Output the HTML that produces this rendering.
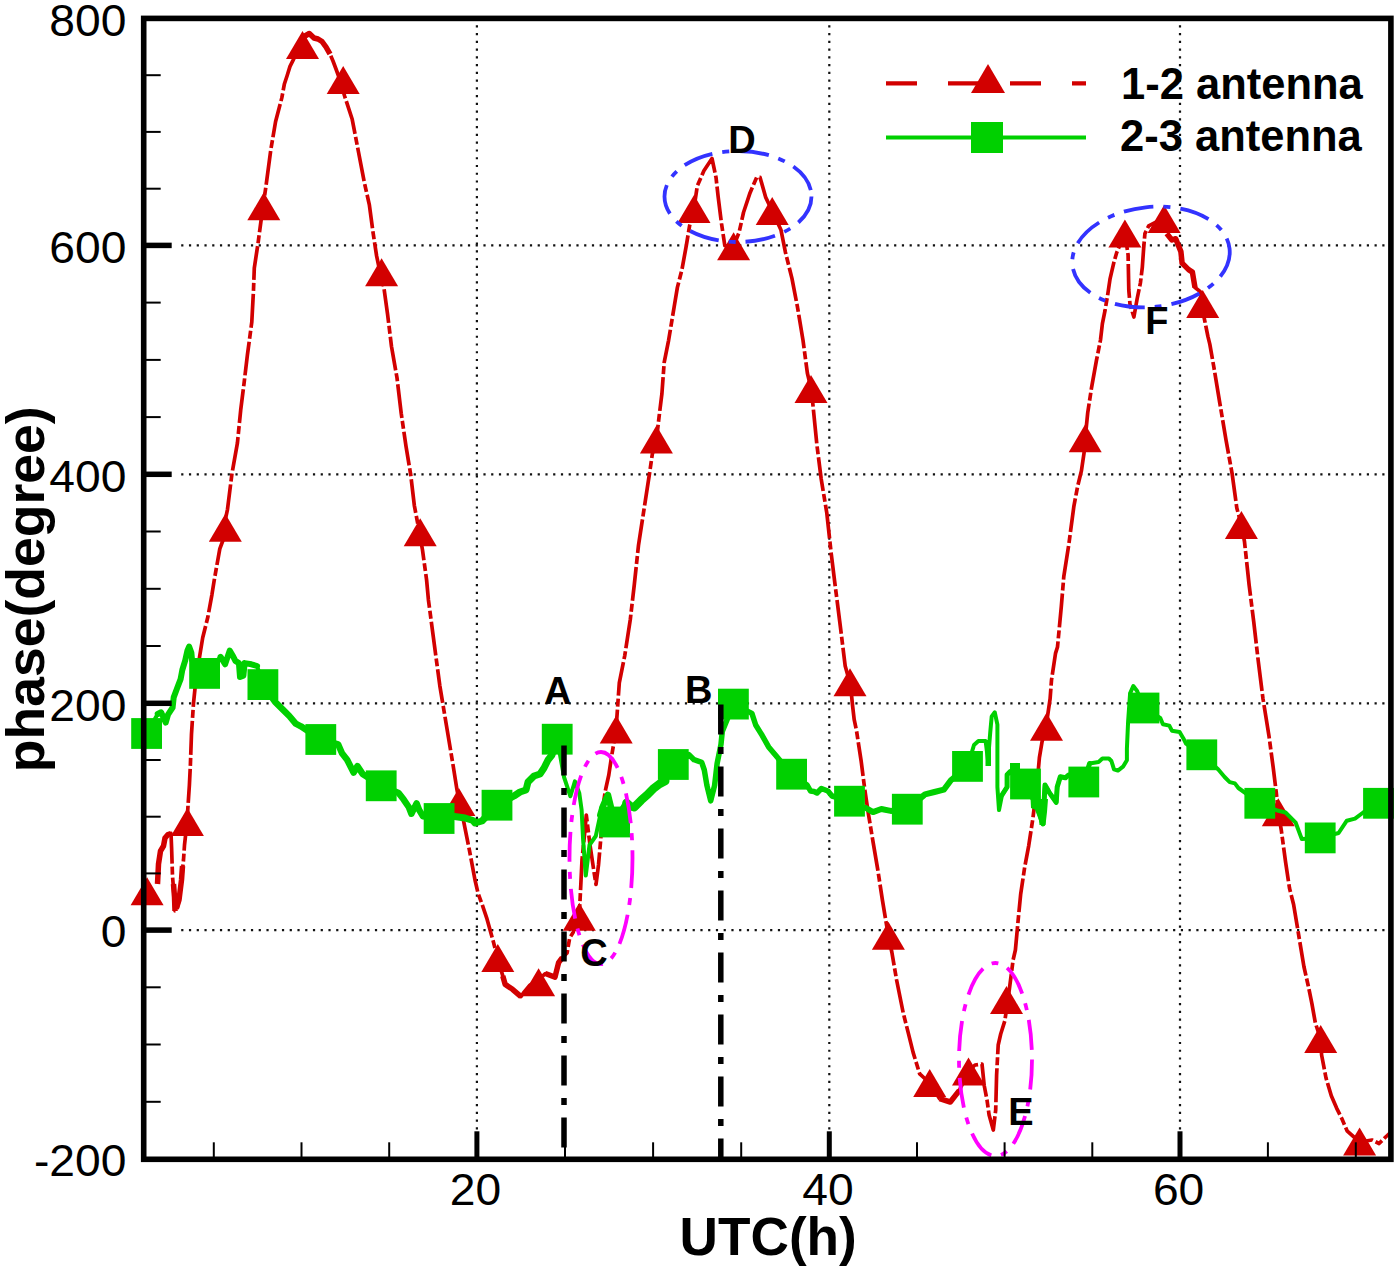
<!DOCTYPE html>
<html><head><meta charset="utf-8"><style>
html,body{margin:0;padding:0;background:#fff;width:1400px;height:1271px;overflow:hidden}
svg{display:block;font-family:"Liberation Sans",sans-serif}
</style></head><body>
<svg width="1400" height="1271" viewBox="0 0 1400 1271">
<g stroke="#111" stroke-width="2.2" fill="none"><line x1="476.9" y1="25.2" x2="476.9" y2="1129.5" stroke-dasharray="2.2 5.561"/><line x1="829.3" y1="25.2" x2="829.3" y2="1129.5" stroke-dasharray="2.2 5.561"/><line x1="1180.0" y1="25.2" x2="1180.0" y2="1129.5" stroke-dasharray="2.2 5.561"/><line x1="181.2" y1="930.1" x2="1384.5" y2="930.1" stroke-dasharray="2.2 5.549"/><line x1="181.2" y1="703.3" x2="1384.5" y2="703.3" stroke-dasharray="2.2 5.549"/><line x1="181.2" y1="474.3" x2="1384.5" y2="474.3" stroke-dasharray="2.2 5.549"/><line x1="181.2" y1="245.4" x2="1384.5" y2="245.4" stroke-dasharray="2.2 5.549"/></g>
<g>
<polyline points="158.0,881.0 158.5,864.0 160.5,851.0 163.5,846.0 165.0,838.0 168.0,834.5 171.0,833.5 171.6,848.0 172.5,876.0 174.0,895.0 175.0,911.0 176.5,911.0 179.0,900.0 181.5,880.0 183.5,860.0 184.5,845.0 185.5,836.0 186.4,825.0 187.5,813.6 189.4,785.0 190.4,764.5 191.5,733.8 193.5,703.2 195.6,682.7 199.7,656.0 202.7,637.7 207.8,617.3 211.9,594.8 214.3,579.7 219.8,548.9 223.1,540.0 225.3,520.0 227.5,509.3 231.9,474.0 237.4,443.2 240.7,410.1 244.0,383.7 247.4,355.0 251.8,322.0 253.5,290.0 254.3,268.0 257.9,244.2 261.4,218.0 264.0,200.0 266.1,185.2 270.8,149.8 275.6,121.5 281.8,97.9 284.3,84.3 287.1,75.7 290.0,66.4 292.9,60.7 298.0,50.0 302.5,40.0 305.0,36.0 309.3,33.5 314.0,38.0 318.0,39.0 322.0,41.5 326.0,47.0 330.0,54.0 333.0,61.0 336.0,69.0 340.0,80.0 344.6,96.0 352.2,119.3 358.3,151.0 364.4,182.7 369.3,204.6 372.9,231.5 376.6,255.9 380.0,272.0 383.9,287.6 387.6,314.4 391.5,346.5 397.0,377.8 401.2,413.3 406.0,446.3 410.7,474.6 414.3,505.3 418.0,525.0 422.5,550.0 426.6,580.0 428.4,599.7 433.2,636.1 439.8,685.6 446.4,725.2 453.0,764.8 457.0,790.0 460.0,805.0 462.9,817.6 469.5,850.6 475.0,880.0 478.0,893.0 482.1,904.3 487.0,918.9 490.0,929.8 493.1,940.7 497.5,958.0 502.8,975.9 505.2,984.4 512.5,989.3 521.0,996.6 523.4,992.9 530.0,985.0 538.6,980.0 545.3,973.5 555.0,977.1 558.6,962.6 562.3,957.7 567.1,952.9 569.6,938.3 573.2,932.2 579.3,915.0 580.8,885.0 582.0,860.0 584.5,835.0 586.3,815.0 590.0,845.0 594.0,872.0 596.0,884.5 598.5,865.0 600.5,842.0 603.9,800.0 605.5,790.0 608.8,775.0 611.8,755.0 613.5,745.0 616.0,730.0 619.3,682.8 624.8,655.3 630.3,619.5 634.4,583.7 638.5,545.2 644.0,509.4 649.5,473.6 652.3,454.3 656.4,440.0 659.2,415.8 661.9,393.8 664.2,362.3 668.6,340.3 674.1,307.2 677.4,287.4 681.9,269.8 686.3,245.6 689.6,225.7 694.0,208.0 697.3,186.0 703.9,170.7 712.0,158.5 716.0,177.3 718.2,197.1 721.5,223.5 724.8,245.6 733.6,246.0 739.1,232.3 743.5,212.5 750.1,192.7 756.7,177.3 760.0,177.3 765.6,197.1 772.2,211.0 781.0,230.1 785.4,252.2 792.0,278.6 797.5,307.2 803.0,340.3 807.4,373.3 810.5,386.0 812.7,402.5 816.9,445.0 821.2,479.0 826.8,513.0 831.1,552.6 835.3,586.6 839.6,620.5 845.2,665.9 850.5,685.0 852.5,705.0 854.2,719.7 856.5,730.7 861.2,761.4 864.8,789.7 868.3,813.3 873.0,841.6 877.8,869.9 882.5,900.6 886.0,921.8 888.4,936.0 891.9,952.5 896.6,980.0 903.2,1012.8 908.2,1032.6 913.1,1052.4 919.7,1073.9 929.7,1083.0 939.6,1098.7 950.3,1102.0 959.4,1090.4 968.5,1071.0 975.0,1065.0 982.0,1064.0 984.2,1085.5 987.0,1100.0 989.1,1115.0 993.3,1130.0 995.7,1110.0 996.6,1075.0 998.2,1045.0 1000.7,1034.0 1004.8,1021.0 1009.0,992.0 1013.1,960.0 1015.4,950.0 1018.1,920.6 1020.7,893.9 1024.7,867.1 1028.7,845.8 1032.8,819.0 1036.8,787.0 1039.4,757.6 1042.1,741.5 1046.1,726.0 1050.1,698.8 1051.5,680.1 1055.5,653.4 1057.5,647.0 1061.3,606.7 1063.8,576.5 1068.9,543.8 1073.9,506.1 1077.7,486.0 1081.4,470.9 1084.0,453.3 1085.2,438.0 1087.7,413.0 1091.5,387.9 1096.5,360.2 1100.5,340.0 1102.4,323.6 1105.0,310.7 1107.6,295.3 1110.1,278.6 1114.0,261.9 1116.6,252.9 1124.9,233.0 1128.1,255.0 1128.8,290.0 1130.0,304.3 1133.9,317.0 1137.1,299.0 1140.4,283.0 1142.3,267.6 1143.6,249.0 1144.9,233.6 1148.7,225.9 1164.1,218.0 1166.7,233.6 1171.9,240.0 1175.7,238.7 1180.9,251.6 1182.1,263.1 1188.6,269.6 1192.4,272.1 1195.0,287.6 1200.1,291.4 1202.7,304.0 1204.0,317.1 1207.9,336.4 1209.8,344.1 1213.8,366.8 1219.9,403.6 1226.1,440.5 1232.2,474.2 1236.8,508.0 1241.4,525.0 1244.5,541.7 1249.1,584.7 1253.7,621.5 1258.3,661.4 1262.9,698.2 1264.0,705.0 1269.1,736.8 1273.2,767.5 1276.2,792.0 1278.3,812.0 1281.4,830.9 1285.5,861.6 1289.5,888.2 1293.6,904.5 1297.7,929.1 1299.5,940.0 1303.9,966.5 1308.3,986.0 1311.9,1003.7 1315.4,1023.2 1320.7,1039.0 1321.6,1055.0 1326.0,1078.0 1331.3,1095.8 1336.6,1108.1 1341.9,1118.8 1347.3,1131.2 1359.6,1142.0 1372.0,1140.0 1379.1,1143.5 1386.2,1136.5 1391.0,1132.0" fill="none" stroke="#d20000" stroke-width="3.7" stroke-linejoin="round" stroke-dasharray="34 3 8 3"/>
<polyline points="157.5,884.0 158.5,864.0 160.5,851.0 163.5,846.0 165.0,838.0 168.0,834.5 171.0,833.5" fill="none" stroke="#d20000" stroke-width="5.5" stroke-linejoin="round"/>
<polyline points="173.5,884.0 174.5,897.0 175.0,911.0" fill="none" stroke="#d20000" stroke-width="5.5" stroke-linejoin="round"/>
<polyline points="176.5,908.0 179.0,900.0 181.5,880.0 182.5,866.0" fill="none" stroke="#d20000" stroke-width="5.5" stroke-linejoin="round"/>
<polyline points="502.8,976.0 505.2,984.4 512.5,989.3 521.0,996.6" fill="none" stroke="#d20000" stroke-width="5.5" stroke-linejoin="round"/>
<polyline points="545.3,973.5 555.0,977.1 558.6,962.6 562.3,957.7" fill="none" stroke="#d20000" stroke-width="5.5" stroke-linejoin="round"/>
<polyline points="1166.7,233.6 1171.9,240.0 1175.7,238.7 1180.9,251.6 1182.1,263.1 1188.6,269.6 1192.4,272.1 1195.0,287.6" fill="none" stroke="#d20000" stroke-width="5.5" stroke-linejoin="round"/>
<polyline points="939.6,1098.7 950.3,1102.0 959.4,1090.4" fill="none" stroke="#d20000" stroke-width="5.5" stroke-linejoin="round"/>
<polyline points="302.5,40.0 305.0,36.0 309.3,33.5 314.0,38.0 318.0,39.0 322.0,41.5 326.0,47.0 330.0,54.0" fill="none" stroke="#d20000" stroke-width="5.5" stroke-linejoin="round"/>
<g fill="#d20000"><polygon points="147.1,877.2 130.6,905.2 163.6,905.2"/><polygon points="187.4,808.0 170.9,836.0 203.9,836.0"/><polygon points="225.3,513.7 208.8,541.7 241.8,541.7"/><polygon points="263.8,192.3 247.3,220.3 280.3,220.3"/><polygon points="302.5,31.1 286.0,59.1 319.0,59.1"/><polygon points="343.2,66.1 326.7,94.1 359.7,94.1"/><polygon points="381.6,258.3 365.1,286.3 398.1,286.3"/><polygon points="420.2,518.3 403.7,546.3 436.7,546.3"/><polygon points="458.9,788.0 442.4,816.0 475.4,816.0"/><polygon points="497.8,944.0 481.3,972.0 514.3,972.0"/><polygon points="538.6,968.3 522.1,996.3 555.1,996.3"/><polygon points="579.3,902.7 562.8,930.7 595.8,930.7"/><polygon points="616.2,715.5 599.7,743.5 632.7,743.5"/><polygon points="656.4,425.4 639.9,453.4 672.9,453.4"/><polygon points="694.0,194.9 677.5,222.9 710.5,222.9"/><polygon points="733.6,232.3 717.1,260.3 750.1,260.3"/><polygon points="772.2,197.1 755.7,225.1 788.7,225.1"/><polygon points="811.0,375.0 794.5,403.0 827.5,403.0"/><polygon points="850.0,668.3 833.5,696.3 866.5,696.3"/><polygon points="888.4,921.8 871.9,949.8 904.9,949.8"/><polygon points="929.7,1069.0 913.2,1097.0 946.2,1097.0"/><polygon points="968.5,1057.4 952.0,1085.4 985.0,1085.4"/><polygon points="1006.5,986.0 990.0,1014.0 1023.0,1014.0"/><polygon points="1046.5,712.8 1030.0,740.8 1063.0,740.8"/><polygon points="1085.2,424.3 1068.7,452.3 1101.7,452.3"/><polygon points="1124.9,219.4 1108.4,247.4 1141.4,247.4"/><polygon points="1164.1,205.0 1147.6,233.0 1180.6,233.0"/><polygon points="1202.7,290.1 1186.2,318.1 1219.2,318.1"/><polygon points="1241.4,511.0 1224.9,539.0 1257.9,539.0"/><polygon points="1278.3,798.2 1261.8,826.2 1294.8,826.2"/><polygon points="1320.7,1025.0 1304.2,1053.0 1337.2,1053.0"/><polygon points="1359.6,1127.6 1343.1,1155.6 1376.1,1155.6"/></g>
<polyline points="146.6,733.5 157.7,714.0 161.1,712.3 165.7,722.6 168.0,714.6 172.6,707.7 173.7,697.4 177.1,688.3 180.6,679.1 182.3,670.0 185.1,660.9 187.4,650.6 189.1,646.6 191.4,652.9 192.0,659.7 204.6,673.4 220.6,656.9 225.1,664.3 229.7,650.6 233.1,656.3 235.4,660.9 238.9,663.1 240.0,677.0 243.4,675.7 244.6,663.1 251.4,664.3 257.1,666.0 262.9,684.6 275.1,701.9 282.9,709.6 289.3,716.0 295.7,723.7 300.9,726.3 320.8,739.5 338.1,744.3 342.0,753.3 347.1,759.7 353.6,772.6 357.4,766.1 362.6,773.9 381.2,785.8 398.6,793.1 403.7,799.6 408.9,807.3 411.4,813.7 416.6,803.4 419.1,809.9 423.0,816.3 439.1,818.5 454.5,816.5 465.0,818.0 473.0,820.5 475.0,823.0 482.0,821.0 497.0,805.2 514.0,796.0 520.0,792.0 526.0,790.0 528.0,782.0 534.0,776.0 540.0,774.0 544.0,768.0 548.0,760.0 552.0,755.0 557.2,739.2 564.0,777.0 570.4,796.3 574.9,781.3 579.3,793.3 581.6,809.7 583.1,839.6 585.8,875.5 589.5,845.0 595.8,836.0 600.3,815.0 603.0,806.0 607.9,794.9 614.6,822.0 626.5,802.8 630.0,806.0 634.2,807.3 641.2,800.2 648.3,793.8 654.0,788.1 659.6,783.9 665.3,781.0 673.3,764.5 688.9,754.6 694.0,759.7 701.7,762.3 704.3,770.0 706.9,785.4 710.7,800.9 714.6,785.4 717.1,763.6 721.0,744.3 722.3,731.4 733.4,704.1 751.9,713.4 755.7,725.0 762.1,735.3 768.6,746.9 775.0,754.6 791.6,774.2 807.1,785.0 810.5,791.0 814.0,791.5 817.0,793.0 821.4,788.5 827.9,791.0 832.0,796.0 849.5,801.2 866.0,808.0 873.0,812.1 881.3,809.0 890.7,810.9 907.3,809.2 925.0,794.4 934.4,792.0 943.8,789.7 950.9,780.2 967.5,766.4 974.0,745.0 978.4,741.0 985.6,741.0 988.0,760.0 990.2,732.8 991.7,716.4 994.8,712.3 997.4,724.6 997.4,787.0 999.0,810.0 1002.0,795.0 1007.1,787.0 1007.1,774.7 1010.2,771.6 1025.5,784.0 1036.0,805.0 1042.9,824.0 1045.0,785.0 1049.0,792.1 1056.2,802.4 1057.2,787.0 1060.3,776.8 1065.4,777.8 1068.5,775.0 1083.8,782.0 1089.6,763.5 1098.6,762.0 1102.4,758.5 1108.9,758.5 1111.4,761.0 1114.0,769.3 1117.9,770.6 1123.0,766.7 1126.9,760.3 1126.9,748.7 1128.1,721.7 1130.1,693.4 1133.3,686.0 1137.1,691.0 1144.0,708.0 1160.3,717.9 1162.9,724.3 1169.3,725.6 1171.9,730.7 1179.6,732.0 1183.4,738.4 1186.0,743.6 1201.8,754.8 1218.1,769.3 1224.6,777.0 1229.7,782.1 1234.9,783.4 1238.4,788.0 1259.8,803.3 1277.3,810.5 1285.5,812.5 1295.7,822.7 1301.8,839.1 1320.2,837.9 1338.6,833.0 1346.8,820.7 1355.0,818.6 1363.2,812.5 1378.5,803.3 1391.0,800.0" fill="none" stroke="#00d000" stroke-width="4.0" stroke-linejoin="round"/>
<polyline points="157.7,714.0 161.1,712.3 165.7,722.6 168.0,714.6 172.6,707.7 173.7,697.4 177.1,688.3 180.6,679.1 182.3,670.0 185.1,660.9 187.4,650.6 189.1,646.6 191.4,652.9 192.0,659.7" fill="none" stroke="#00d000" stroke-width="6.0" stroke-linejoin="round" stroke-linecap="round"/>
<polyline points="220.6,656.9 225.1,664.3 229.7,650.6 233.1,656.3 235.4,660.9 238.9,663.1 240.0,677.0 243.4,675.7 244.6,663.1 251.4,664.3 257.1,666.0" fill="none" stroke="#00d000" stroke-width="6.0" stroke-linejoin="round" stroke-linecap="round"/>
<polyline points="262.9,684.6 275.1,701.9 282.9,709.6 289.3,716.0 295.7,723.7 300.9,726.3 320.8,739.5 338.1,744.3 342.0,753.3 347.1,759.7 353.6,772.6 357.4,766.1 362.6,773.9 381.2,785.8 398.6,793.1 403.7,799.6 408.9,807.3 411.4,813.7 416.6,803.4 419.1,809.9 423.0,816.3 439.1,818.5" fill="none" stroke="#00d000" stroke-width="6.5" stroke-linejoin="round" stroke-linecap="round"/>
<polyline points="454.5,816.5 465.0,818.0 473.0,820.5 475.0,823.0 482.0,821.0 497.0,805.2 514.0,796.0 520.0,792.0 526.0,790.0 528.0,782.0 534.0,776.0 540.0,774.0 544.0,768.0 548.0,760.0 552.0,755.0 557.2,739.2" fill="none" stroke="#00d000" stroke-width="7.0" stroke-linejoin="round" stroke-linecap="round"/>
<polyline points="600.3,815.0 603.0,806.0 607.9,794.9 614.6,822.0 626.5,802.8 630.0,806.0" fill="none" stroke="#00d000" stroke-width="6.5" stroke-linejoin="round" stroke-linecap="round"/>
<polyline points="626.5,802.8 630.0,806.0 634.2,807.3 641.2,800.2 648.3,793.8 654.0,788.1 659.6,783.9 665.3,781.0" fill="none" stroke="#00d000" stroke-width="8.5" stroke-linejoin="round" stroke-linecap="round"/>
<polyline points="673.3,764.5 688.9,754.6 694.0,759.7 701.7,762.3 704.3,770.0 706.9,785.4 710.7,800.9 714.6,785.4 717.1,763.6 721.0,744.3 722.3,731.4 733.4,704.1 751.9,713.4 755.7,725.0 762.1,735.3 768.6,746.9 775.0,754.6 791.6,774.2 807.1,785.0 810.5,791.0 814.0,791.5 817.0,793.0 821.4,788.5 827.9,791.0 832.0,796.0 849.5,801.2" fill="none" stroke="#00d000" stroke-width="5.5" stroke-linejoin="round" stroke-linecap="round"/>
<polyline points="866.0,808.0 873.0,812.1 881.3,809.0 890.7,810.9 907.3,809.2 925.0,794.4 934.4,792.0 943.8,789.7 950.9,780.2 967.5,766.4" fill="none" stroke="#00d000" stroke-width="6.0" stroke-linejoin="round" stroke-linecap="round"/>
<polyline points="1002.0,795.0 1007.1,787.0 1007.1,774.7 1010.2,771.6 1025.5,784.0 1036.0,805.0 1042.9,824.0 1045.0,785.0 1049.0,792.1 1056.2,802.4 1057.2,787.0 1060.3,776.8 1065.4,777.8 1068.5,775.0 1083.8,782.0 1089.6,763.5" fill="none" stroke="#00d000" stroke-width="5.0" stroke-linejoin="round" stroke-linecap="round"/>
<g fill="#00d000"><rect x="985.5" y="740" width="5.5" height="26"/><rect x="1010" y="763" width="10" height="8"/><polygon points="1030.6,799 1048,799 1047,812 1045.5,825 1039.5,825 1038,811 1031,808"/></g>
<g fill="#00d000"><rect x="131.2" y="718.1" width="30.8" height="30.8"/><rect x="189.2" y="658.0" width="30.8" height="30.8"/><rect x="247.5" y="669.2" width="30.8" height="30.8"/><rect x="305.4" y="724.1" width="30.8" height="30.8"/><rect x="365.8" y="770.4" width="30.8" height="30.8"/><rect x="423.7" y="803.1" width="30.8" height="30.8"/><rect x="481.6" y="789.8" width="30.8" height="30.8"/><rect x="541.8" y="723.8" width="30.8" height="30.8"/><rect x="599.2" y="806.6" width="30.8" height="30.8"/><rect x="657.9" y="749.1" width="30.8" height="30.8"/><rect x="718.0" y="688.7" width="30.8" height="30.8"/><rect x="776.2" y="758.8" width="30.8" height="30.8"/><rect x="834.1" y="785.8" width="30.8" height="30.8"/><rect x="891.9" y="793.8" width="30.8" height="30.8"/><rect x="952.1" y="751.0" width="30.8" height="30.8"/><rect x="1010.1" y="768.6" width="30.8" height="30.8"/><rect x="1068.4" y="766.6" width="30.8" height="30.8"/><rect x="1128.6" y="692.6" width="30.8" height="30.8"/><rect x="1186.4" y="739.4" width="30.8" height="30.8"/><rect x="1244.4" y="787.9" width="30.8" height="30.8"/><rect x="1304.8" y="822.5" width="30.8" height="30.8"/><rect x="1363.1" y="787.9" width="30.8" height="30.8"/></g>
</g>
<g stroke="#000" stroke-width="5.5" stroke-dasharray="30 12.5 7 12.5" fill="none"><line x1="564" y1="745.5" x2="564" y2="1148.5"/><line x1="720.8" y1="704.4" x2="720.8" y2="1158"/></g>
<g fill="none" stroke-width="3.8" stroke-dasharray="30 10 7 10"><ellipse cx="601" cy="858" rx="31.5" ry="106" stroke="#ff00ff"/><ellipse cx="995.5" cy="1059.5" rx="36.5" ry="96.5" stroke="#ff00ff"/><ellipse cx="738" cy="196.5" rx="73.5" ry="45.5" stroke="#3333ff"/><ellipse cx="1151" cy="257" rx="79" ry="50" stroke="#3333ff" transform="rotate(-6 1151 257)"/></g>
<g font-weight="bold" font-size="38" fill="#000"><text x="544" y="704" transform="scale(1,1)">A</text><text x="685" y="703">B</text><text x="580.2" y="966.3">C</text><text x="728.2" y="153.2">D</text><text x="1008.3" y="1125.4">E</text><text x="1145.2" y="333.5">F</text></g>
<g stroke="#000" fill="none"><line x1="213.8" y1="1159.3" x2="213.8" y2="1142.3" stroke-width="2"/><line x1="301.5" y1="1159.3" x2="301.5" y2="1142.3" stroke-width="2"/><line x1="389.2" y1="1159.3" x2="389.2" y2="1142.3" stroke-width="2"/><line x1="476.9" y1="1159.3" x2="476.9" y2="1131.3" stroke-width="5"/><line x1="565.0" y1="1159.3" x2="565.0" y2="1142.3" stroke-width="2"/><line x1="653.1" y1="1159.3" x2="653.1" y2="1142.3" stroke-width="2"/><line x1="741.2" y1="1159.3" x2="741.2" y2="1142.3" stroke-width="2"/><line x1="829.3" y1="1159.3" x2="829.3" y2="1131.3" stroke-width="5"/><line x1="917.0" y1="1159.3" x2="917.0" y2="1142.3" stroke-width="2"/><line x1="1004.6" y1="1159.3" x2="1004.6" y2="1142.3" stroke-width="2"/><line x1="1092.3" y1="1159.3" x2="1092.3" y2="1142.3" stroke-width="2"/><line x1="1180.0" y1="1159.3" x2="1180.0" y2="1131.3" stroke-width="5"/><line x1="1267.9" y1="1159.3" x2="1267.9" y2="1142.3" stroke-width="2"/><line x1="1355.8" y1="1159.3" x2="1355.8" y2="1142.3" stroke-width="2"/><line x1="143.7" y1="1101.8" x2="160.7" y2="1101.8" stroke-width="2"/><line x1="143.7" y1="1044.5" x2="160.7" y2="1044.5" stroke-width="2"/><line x1="143.7" y1="987.3" x2="160.7" y2="987.3" stroke-width="2"/><line x1="143.7" y1="930.1" x2="171.7" y2="930.1" stroke-width="5.5"/><line x1="143.7" y1="873.4" x2="160.7" y2="873.4" stroke-width="2"/><line x1="143.7" y1="816.7" x2="160.7" y2="816.7" stroke-width="2"/><line x1="143.7" y1="760.0" x2="160.7" y2="760.0" stroke-width="2"/><line x1="143.7" y1="703.3" x2="171.7" y2="703.3" stroke-width="5.5"/><line x1="143.7" y1="646.0" x2="160.7" y2="646.0" stroke-width="2"/><line x1="143.7" y1="588.8" x2="160.7" y2="588.8" stroke-width="2"/><line x1="143.7" y1="531.5" x2="160.7" y2="531.5" stroke-width="2"/><line x1="143.7" y1="474.3" x2="171.7" y2="474.3" stroke-width="5.5"/><line x1="143.7" y1="417.1" x2="160.7" y2="417.1" stroke-width="2"/><line x1="143.7" y1="359.9" x2="160.7" y2="359.9" stroke-width="2"/><line x1="143.7" y1="302.6" x2="160.7" y2="302.6" stroke-width="2"/><line x1="143.7" y1="245.4" x2="171.7" y2="245.4" stroke-width="5.5"/><line x1="143.7" y1="188.7" x2="160.7" y2="188.7" stroke-width="2"/><line x1="143.7" y1="131.9" x2="160.7" y2="131.9" stroke-width="2"/><line x1="143.7" y1="75.2" x2="160.7" y2="75.2" stroke-width="2"/></g>
<rect x="143.7" y="18.4" width="1247.2" height="1140.9" fill="none" stroke="#000" stroke-width="5.6"/>
<g font-size="44" fill="#000"><text transform="translate(126.4,35.7) scale(1.05,1)" text-anchor="end">800</text><text transform="translate(126.4,262.7) scale(1.05,1)" text-anchor="end">600</text><text transform="translate(126.4,491.6) scale(1.05,1)" text-anchor="end">400</text><text transform="translate(126.4,720.6) scale(1.05,1)" text-anchor="end">200</text><text transform="translate(126.4,947.4) scale(1.05,1)" text-anchor="end">0</text><text transform="translate(126.4,1176.3) scale(1.05,1)" text-anchor="end">-200</text><text transform="translate(475.5,1205.3) scale(1.05,1)" text-anchor="middle">20</text><text transform="translate(827.9,1205.3) scale(1.05,1)" text-anchor="middle">40</text><text transform="translate(1178.6,1205.3) scale(1.05,1)" text-anchor="middle">60</text></g>
<text transform="translate(768.2,1254.5) scale(0.985,1)" text-anchor="middle" font-weight="bold" font-size="54">UTC(h)</text>
<text transform="translate(43.7,589.3) rotate(-90)" text-anchor="middle" font-weight="bold" font-size="53.5">phase(degree)</text>
<g><line x1="886" y1="83.3" x2="1086" y2="83.3" stroke="#d20000" stroke-width="4.2" stroke-dasharray="31 31"/><polygon points="988,64 971,93 1005,93" fill="#d20000"/><line x1="886" y1="137.5" x2="1086" y2="137.5" stroke="#00d000" stroke-width="4.2"/><rect x="971" y="122" width="32" height="31" fill="#00d000"/></g>
<g font-weight="bold" font-size="43.5" fill="#000"><text x="1121" y="99">1-2 antenna</text><text x="1120" y="151">2-3 antenna</text></g>
</svg>
</body></html>
